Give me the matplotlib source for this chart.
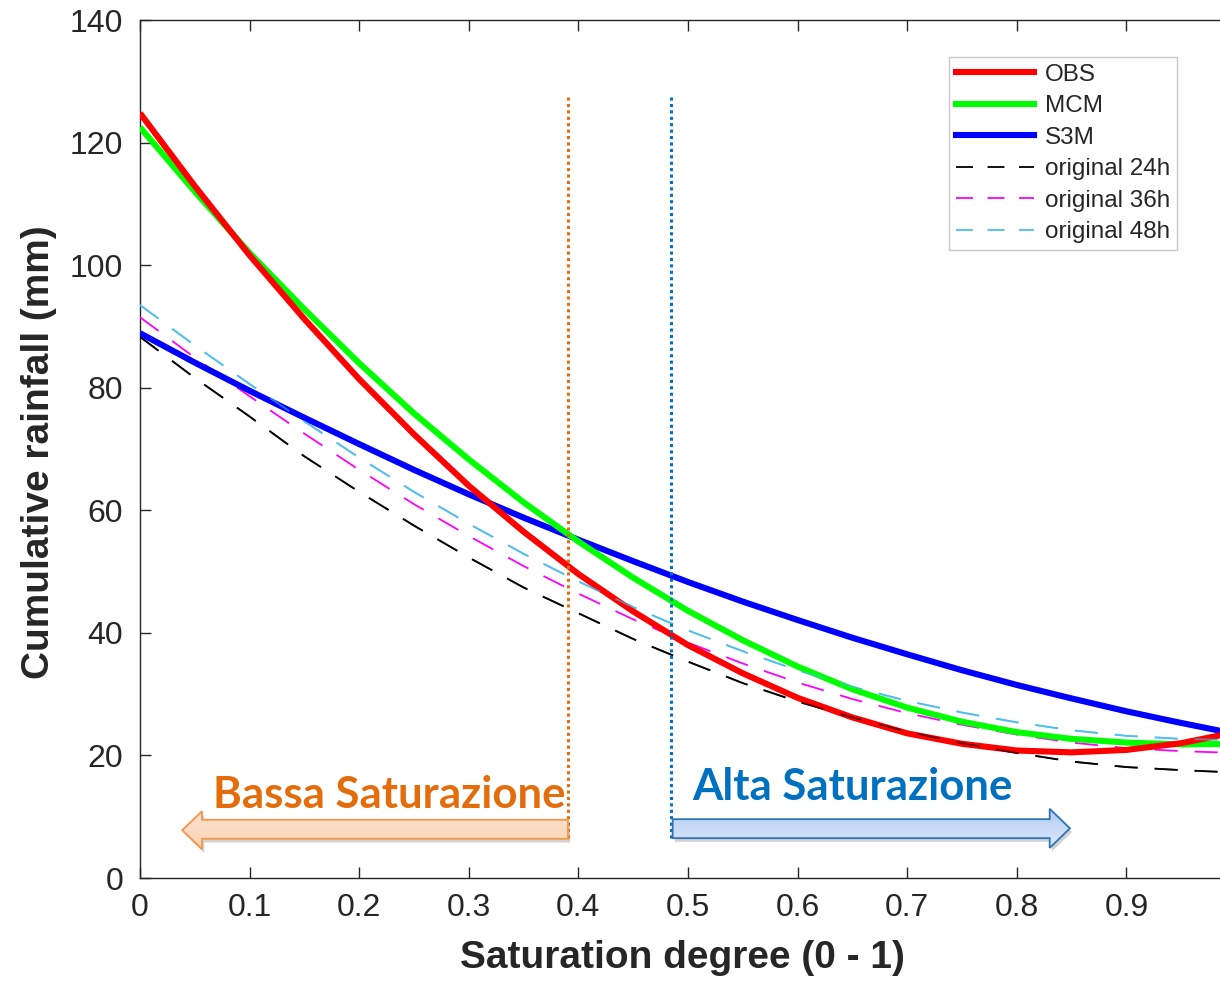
import numpy as np
import matplotlib
matplotlib.use('Agg')
import matplotlib.pyplot as plt
from matplotlib.patches import Polygon
from matplotlib.lines import Line2D


sat = [0.00, 0.05, 0.10, 0.15, 0.20, 0.25, 0.30, 0.35, 0.40, 0.45, 0.50,
       0.55, 0.60, 0.65, 0.70, 0.75, 0.80, 0.85, 0.90, 0.95, 1.00]

obs = [124.8, 112.9, 101.6, 91.2, 81.4, 72.4, 64.0, 56.5, 49.6, 43.5, 38.0,
       33.4, 29.4, 26.2, 23.6, 21.9, 20.8, 20.5, 20.9, 22.0, 23.8]
mcm = [122.5, 112.0, 102.0, 92.8, 84.0, 75.8, 68.3, 61.3, 54.9, 49.0, 43.6,
       38.8, 34.5, 30.8, 27.8, 25.5, 23.8, 22.7, 22.1, 21.8, 21.9]
s3m = [88.9, 84.1, 79.5, 75.1, 70.8, 66.6, 62.6, 58.8, 55.2, 51.7, 48.3,
       45.1, 42.1, 39.2, 36.5, 33.9, 31.5, 29.3, 27.2, 25.3, 23.5]
orig_24h = [88.3, 81.6, 75.3, 68.8, 63.0, 57.5, 52.3, 47.4, 43.2, 39.0, 35.3,
            31.8, 28.8, 26.2, 23.9, 22.0, 20.4, 19.0, 18.1, 17.6, 17.2]
orig_36h = [91.5, 84.9, 78.6, 72.5, 66.6, 61.0, 55.8, 50.9, 46.4, 42.2, 38.4,
            35.0, 31.9, 29.2, 26.9, 25.0, 23.4, 22.1, 21.2, 20.7, 20.4]
orig_48h = [93.5, 86.9, 80.6, 74.5, 68.6, 63.0, 57.8, 52.9, 48.4, 44.2, 40.4,
            37.0, 33.9, 31.2, 28.9, 27.0, 25.4, 24.1, 23.2, 22.7, 22.5]

# thresholds between low / high saturation
low_limit  = 0.3905
high_limit = 0.4845

xticks = [0, 0.1, 0.2, 0.3, 0.4, 0.5, 0.6, 0.7, 0.8, 0.9, 1]
xtick_labels = ['0', '0.1', '0.2', '0.3', '0.4', '0.5', '0.6', '0.7', '0.8', '0.9', '1']
yticks = [0, 20, 40, 60, 80, 100, 120, 140]

c_obs  = '#FF0000'
c_mcm  = '#00FF00'
c_s3m  = '#0000FF'
c_24h  = '#000000'
c_36h  = '#FF00FF'
c_48h  = '#4DBEEE'
c_orange = '#E46C0A'
c_blue   = '#0070C0'
axis_col = '#262626'

plt.rcParams['font.family'] = ['Liberation Sans', 'DejaVu Sans']

fig = plt.figure(figsize=(12.2, 9.84), dpi=100)
ax = fig.add_axes([140/1220, 1-878/984, 1096/1220, 858/984])

solid_lw = 4.4
dash_lw  = 1.3
dash_pat = (16.6/dash_lw, 12.2/dash_lw)

ax.plot(sat, orig_24h, color=c_24h, lw=dash_lw, dashes=dash_pat, zorder=3)
ax.plot(sat, orig_36h, color=c_36h, lw=dash_lw, dashes=dash_pat, zorder=3)
ax.plot(sat, orig_48h, color=c_48h, lw=dash_lw, dashes=dash_pat, zorder=3)
ax.plot(sat, s3m, color=c_s3m, lw=solid_lw, zorder=4, solid_capstyle='butt')
ax.plot(sat, mcm, color=c_mcm, lw=solid_lw, zorder=4, solid_capstyle='butt')
ax.plot(sat, obs, color=c_obs, lw=solid_lw, zorder=4, solid_capstyle='butt')
# dashes show faintly over the thick curves in the original
ax.plot(sat, orig_24h, color=c_24h, lw=dash_lw, dashes=dash_pat, zorder=5, alpha=0.6)
ax.plot(sat, orig_48h, color=c_48h, lw=dash_lw, dashes=dash_pat, zorder=5, alpha=0.6)

ax.set_xlim(0, 1)
ax.set_ylim(0, 140)
ax.set_xticks(xticks)
ax.set_xticklabels(xtick_labels)
ax.set_yticks(yticks)
ax.tick_params(direction='in', length=8, width=1.0, colors=axis_col,
               labelsize=23, top=True, right=True, pad=12)
ax.tick_params(axis='x', pad=11)
for sp in ax.spines.values():
    sp.set_color(axis_col)
    sp.set_linewidth(1.0)

ax.set_xlabel('Saturation degree (0 - 1)', fontsize=28, fontweight='bold',
              color=axis_col)
ax.set_ylabel('Cumulative rainfall (mm)', fontsize=28, fontweight='bold',
              color=axis_col)
ax.xaxis.set_label_coords((682-140)/1096, -0.072)
ax.yaxis.set_label_coords(-(140-57)/1096, (878-452)/858)

# vertical dotted separators
ax.plot([low_limit, low_limit], [6.5, 127.8], color=c_orange, lw=2.2,
        dashes=(1, 1.1), dash_capstyle='butt', zorder=6)
ax.plot([high_limit, high_limit], [6.5, 127.8], color=c_blue, lw=2.2,
        dashes=(1, 1.1), dash_capstyle='butt', zorder=6)


def block_arrow(ax, x_tail, x_tip, x_head, y_shaft, y_head, edge, top_col, bot_col):
    pts = [(x_tail, y_shaft[0]), (x_head, y_shaft[0]), (x_head, y_head[0]),
           (x_tip, (y_head[0] + y_head[1]) / 2), (x_head, y_head[1]),
           (x_head, y_shaft[1]), (x_tail, y_shaft[1])]
    shadow = Polygon([(px + 0.002, py - 0.6) for px, py in pts], closed=True,
                     facecolor='#7f7f7f', edgecolor='none', alpha=0.35, zorder=6)
    ax.add_patch(shadow)
    poly = Polygon(pts, closed=True, facecolor='none', edgecolor=edge, lw=1.3, zorder=8)
    ax.add_patch(poly)
    grad = np.linspace(0, 1, 64).reshape(-1, 1)
    cmap = matplotlib.colors.LinearSegmentedColormap.from_list('g', [top_col, bot_col])
    xs = [p[0] for p in pts]
    im = ax.imshow(grad, extent=[min(xs), max(xs), y_head[0], y_head[1]], origin='upper',
                   aspect='auto', cmap=cmap, zorder=7, interpolation='bilinear')
    im.set_clip_path(poly)


block_arrow(ax, low_limit, 0.0385, 0.0566, (6.4, 9.5), (4.7, 10.9),
            '#F79646', '#FCE4D3', '#FBD1B0')
block_arrow(ax, high_limit + 0.0015, 0.8485, 0.830, (6.5, 9.6), (4.9, 11.3),
            '#2E75B6', '#B4CCF2', '#DCE7FA')
ax.set_xlim(0, 1)
ax.set_ylim(0, 140)

ax.text(0.0666, 11.4, 'Bassa Saturazione', fontsize=31.5, fontweight='bold',
        color=c_orange, family=['Lato', 'DejaVu Sans'], ha='left', va='baseline', zorder=9)
ax.text(0.5036, 12.7, 'Alta Saturazione', fontsize=31.5, fontweight='bold',
        color=c_blue, family=['Lato', 'DejaVu Sans'], ha='left', va='baseline', zorder=9)

handles = [
    Line2D([], [], color=c_obs, lw=solid_lw),
    Line2D([], [], color=c_mcm, lw=solid_lw),
    Line2D([], [], color=c_s3m, lw=solid_lw),
    Line2D([], [], color=c_24h, lw=dash_lw, dashes=(12.2/dash_lw, 10.5/dash_lw)),
    Line2D([], [], color=c_36h, lw=dash_lw, dashes=(12.2/dash_lw, 10.5/dash_lw)),
    Line2D([], [], color=c_48h, lw=dash_lw, dashes=(12.2/dash_lw, 10.5/dash_lw)),
]
labels = ['OBS', 'MCM', 'S3M', 'original 24h', 'original 36h', 'original 48h']
leg = ax.legend(handles, labels, loc='upper left',
                bbox_to_anchor=(949/1220, 1-57/984), bbox_transform=fig.transFigure,
                fontsize=17.5, handlelength=3.2, handletextpad=0.45,
                labelspacing=0.39, borderpad=0.28, borderaxespad=0,
                fancybox=False, framealpha=1, edgecolor='#C8C8C8')
leg.get_frame().set_linewidth(1.0)
for t in leg.get_texts():
    t.set_color(axis_col)
leg.set_zorder(10)

fig.savefig('out.png', dpi=100)
